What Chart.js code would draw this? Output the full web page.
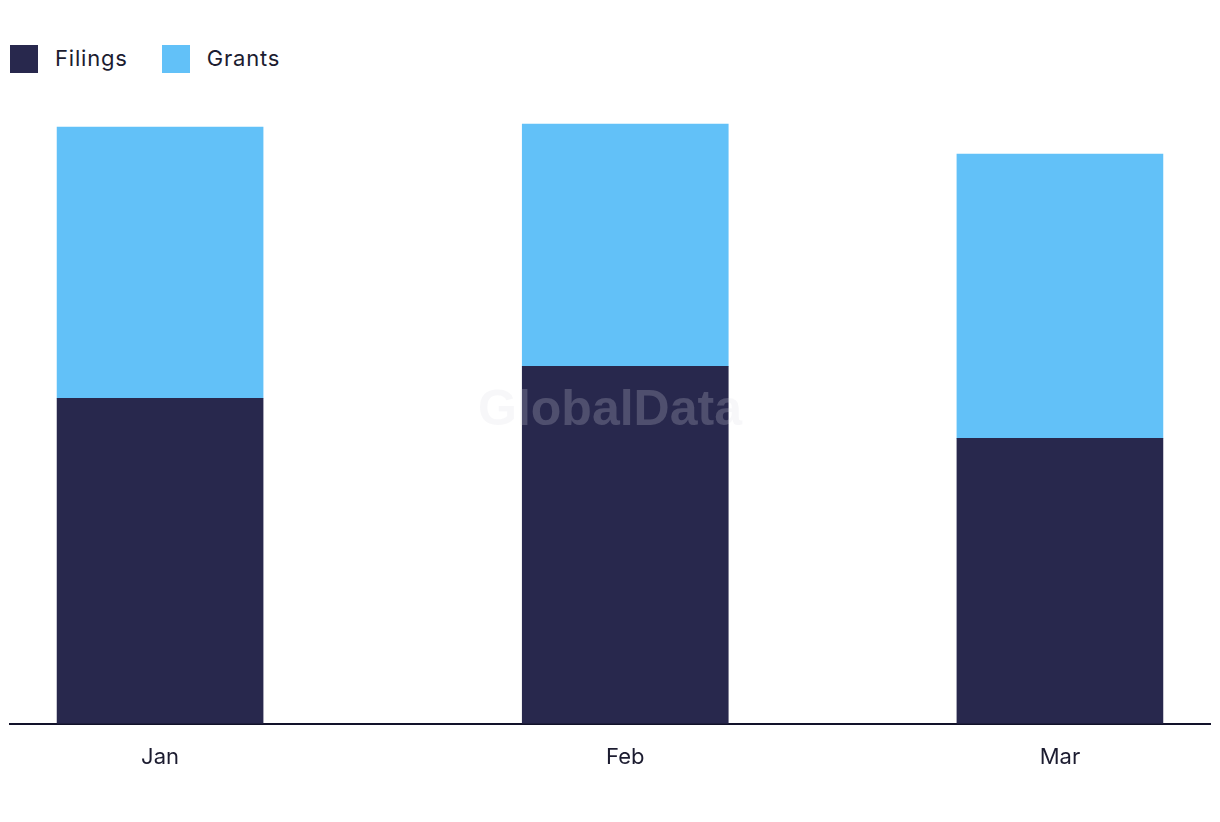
<!DOCTYPE html>
<html>
<head>
<meta charset="utf-8">
<script src="https://cdn.jsdelivr.net/npm/chart.js@4"></script>
<style>
  body { margin: 0; background: #fff; font-family: Inter, "Noto Sans", sans-serif; }
  #legend { position: absolute; left: 10px; top: 43px; display: flex; align-items: center; font-size: 22px; letter-spacing: 0.8px; color: #1c1c30; }
  .item { display: flex; align-items: center; margin-right: 34px; height: 30px; }
  .box { width: 28px; height: 28px; margin-right: 17px; margin-top: 2px; }
  #wrap { position: absolute; left: 0; top: 90px; width: 1220px; height: 732px; }
</style>
</head>
<body>
<div id="legend"></div>
<div id="wrap"><canvas id="chart"></canvas></div>
<script>
// data
const months = ['Jan', 'Feb', 'Mar'];
const monthPos = [0, 30.5, 59];
const filings = [325, 357, 285];
const grants = [271, 242, 284];
const seriesNames = ['Filings', 'Grants'];
const seriesColors = ['#28284d', '#62c1f8'];

// html legend
const legend = document.getElementById('legend');
seriesNames.forEach((name, i) => {
    legend.innerHTML += `<div class="item"><div class="box" style="background:${seriesColors[i]}"></div>${name}</div>`;
});

// watermark
const watermark = {
    id: 'watermark',
    afterDatasetsDraw(chart) {
        const ctx = chart.ctx;
        ctx.save();
        ctx.font = 'bold 50px "Liberation Sans", Arial, sans-serif';
        ctx.fillStyle = 'rgba(220,220,228,0.22)';
        ctx.textAlign = 'center';
        ctx.textBaseline = 'middle';
        ctx.fillText('GlobalData', 610, 411 - 90);
        ctx.restore();
    }
};

const toPoints = arr => arr.map((v, i) => ({ x: monthPos[i], y: v }));

new Chart(document.getElementById('chart'), {
    type: 'bar',
    data: {
        datasets: [
            { label: seriesNames[0], data: toPoints(filings), backgroundColor: seriesColors[0] },
            { label: seriesNames[1], data: toPoints(grants), backgroundColor: seriesColors[1] }
        ]
    },
    options: {
        responsive: true,
        maintainAspectRatio: false,
        animation: false,
        barThickness: 206,
        layout: { padding: { left: 10, right: 10, top: 0, bottom: 30 } },
        plugins: { legend: { display: false }, tooltip: { enabled: false } },
        scales: {
            x: {
                type: 'linear',
                stacked: true,
                offset: false,
                min: -9.84,
                max: 68.84,
                grid: { display: false, drawTicks: false, offset: false },
                border: { display: true, color: '#12122a', width: 2 },
                afterBuildTicks: axis => { axis.ticks = monthPos.map(v => ({ value: v })); },
                ticks: {
                    padding: 21,
                    color: '#1c1c30',
                    font: { family: 'Inter, "Noto Sans", sans-serif', size: 22 },
                    callback: (v, i) => months[i]
                }
            },
            y: {
                stacked: true,
                display: false,
                min: 0,
                max: 633
            }
        }
    },
    plugins: [watermark]
});
</script>
</body>
</html>
